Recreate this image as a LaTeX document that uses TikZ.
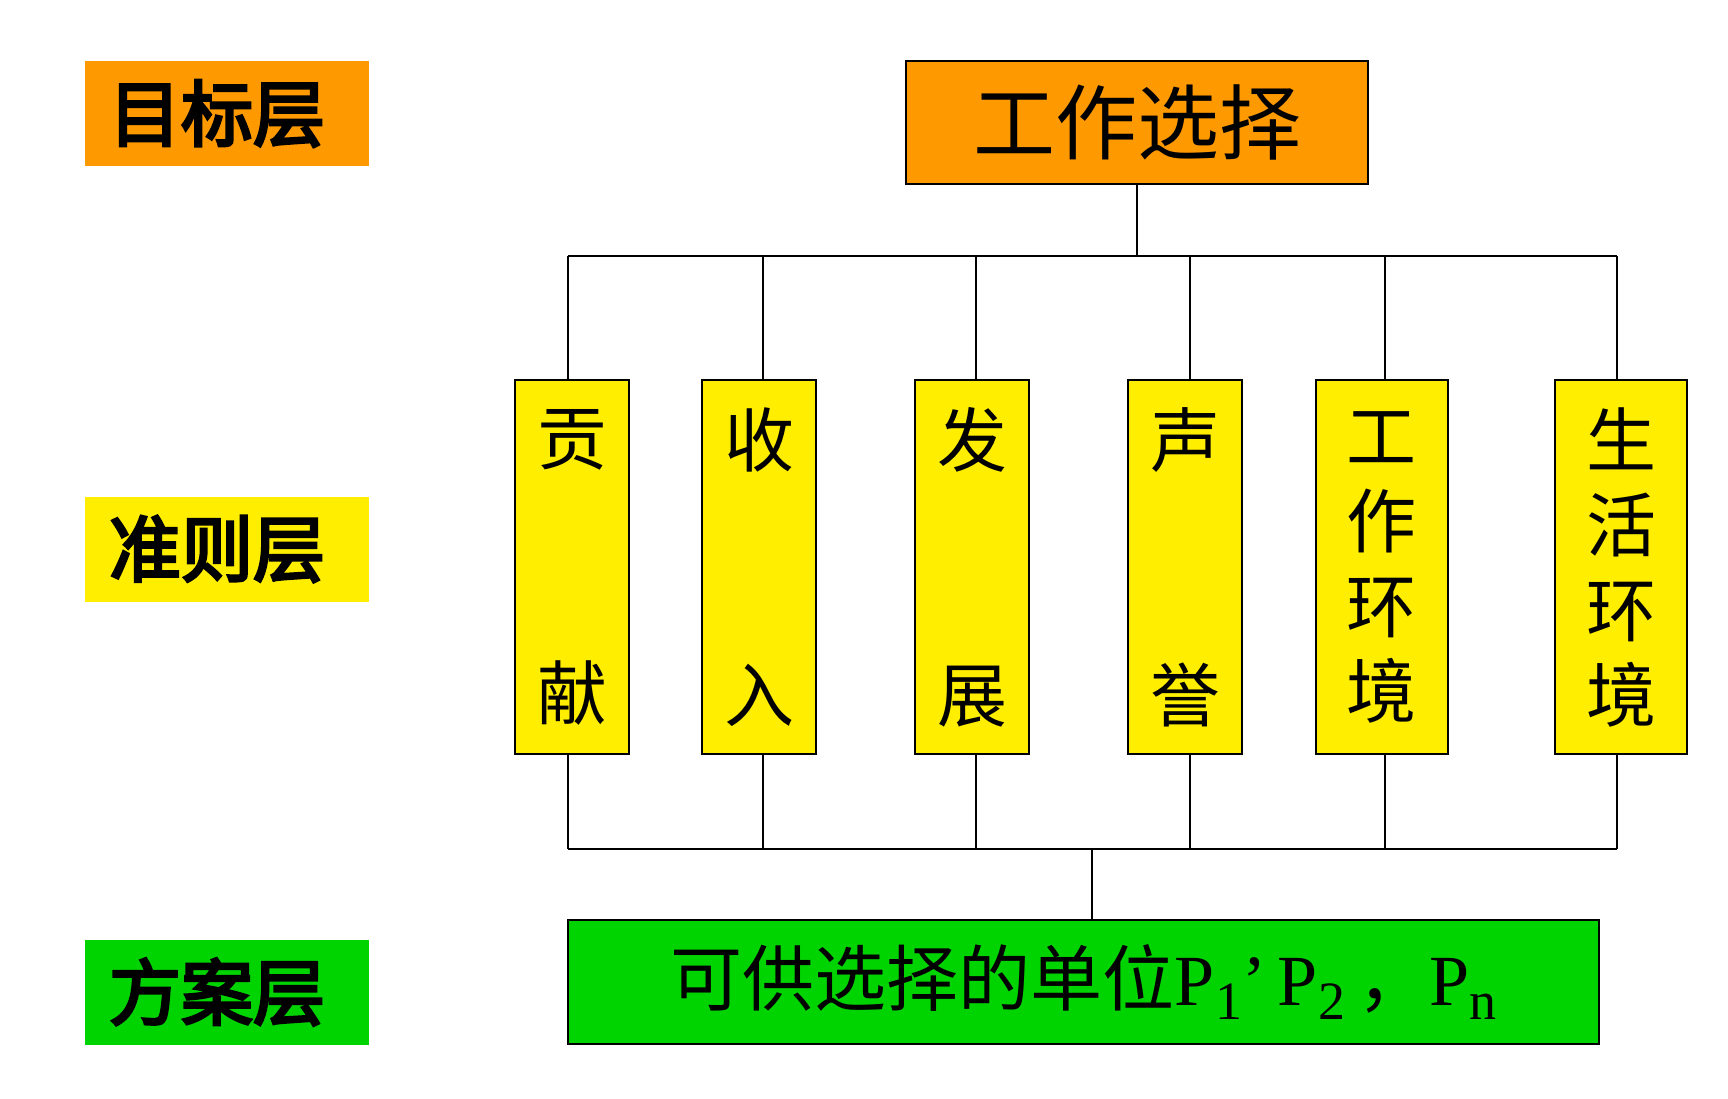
\documentclass[tikz,border=0pt]{standalone}
\usepackage{fontspec}
\usepackage{xcolor}
\setmainfont{Liberation Serif}
\newfontfamily\cjk{Noto Sans CJK SC}
\newfontfamily\cjkbold{Noto Sans CJK SC}[FakeBold=4]
\usetikzlibrary{positioning}

\definecolor{goalorange}{HTML}{FF9900}
\definecolor{crityellow}{HTML}{FFEE00}
\definecolor{altgreen}{HTML}{00D400}

\newcommand{\subidx}[1]{\raisebox{-0.45ex}{\fontsize{27}{27}\selectfont #1}}

\begin{document}
\begin{tikzpicture}[
    x=0.5pt, y=-0.5pt,
    tag/.style = {
        rectangle,
        minimum width=142pt,
        minimum height=52.5pt,
        inner sep=0pt,
        font=\cjkbold\fontsize{36}{36}\selectfont
    },
    box/.style = {
        rectangle,
        draw=black,
        line width=1pt,
        inner sep=0pt,
        text centered
    },
    crit/.style = {
        box,
        fill=crityellow,
        minimum width=57pt,
        minimum height=187pt,
        align=center,
        font=\cjk\fontsize{35}{42.5}\selectfont
    },
    link/.style = {line width=1pt, black}
]
\useasboundingbox (0,0) rectangle (1728,1098);

%% Layer tags
\node[tag, fill=goalorange] (tgoal) at (227,113.5) {目标层\kern10pt};
\node[tag, fill=crityellow] (tcrit) at (227,549) {准则层\kern10pt};
\node[tag, fill=altgreen]   (talt)  at (227,992) {方案层\kern10pt};

%% Goal
\node[box, fill=goalorange, minimum width=231pt, minimum height=61.5pt,
      font=\cjk\fontsize{41}{41}\selectfont] (goal) at (1137,122.5) {工作选择};

%% Criteria
\node[crit] (c1) at (572,567)    {贡\\[85pt]献};
\node[crit] (c2) at (759,567)    {收\\[85pt]入};
\node[crit] (c3) at (972,567)    {发\\[85pt]展};
\node[crit] (c4) at (1185,567)   {声\\[85pt]誉};
\node[crit, minimum width=66pt] (c5) at (1381.5,567) {工\\作\\环\\境};
\node[crit, minimum width=66pt] (c6) at (1621,567)   {生\\活\\环\\境};

%% Alternatives
\node[box, fill=altgreen, minimum width=515.5pt, minimum height=62pt,
      font=\fontsize{36}{36}\selectfont] (alt) at (1083.5,982)
    {{\cjk 可供选择的单位}P\subidx{1}’\,P\subidx{2}\,{\cjk ，}P\subidx{n}};

%% Buses
\coordinate (topbus) at (0,256);
\coordinate (botbus) at (0,849);

\draw[link] (goal.south) -- (goal.south |- topbus);
\draw[link] ([xshift=-2pt]c1.north |- topbus) -- ([xshift=-2pt]c6.north |- topbus);
\draw[link] ([xshift=-2pt]c1.south |- botbus) -- ([xshift=-2pt]c6.south |- botbus);
\draw[link] ([xshift=4pt]alt.north) -- ([xshift=4pt]alt.north |- botbus);
\foreach \c/\dx in {c1/-2pt, c2/2pt, c3/2pt, c4/2.5pt, c5/1.5pt, c6/-2pt} {
    \draw[link] ([xshift=\dx]\c.north) -- ([xshift=\dx]\c.north |- topbus);
    \draw[link] ([xshift=\dx]\c.south) -- ([xshift=\dx]\c.south |- botbus);
}

\end{tikzpicture}
\end{document}
